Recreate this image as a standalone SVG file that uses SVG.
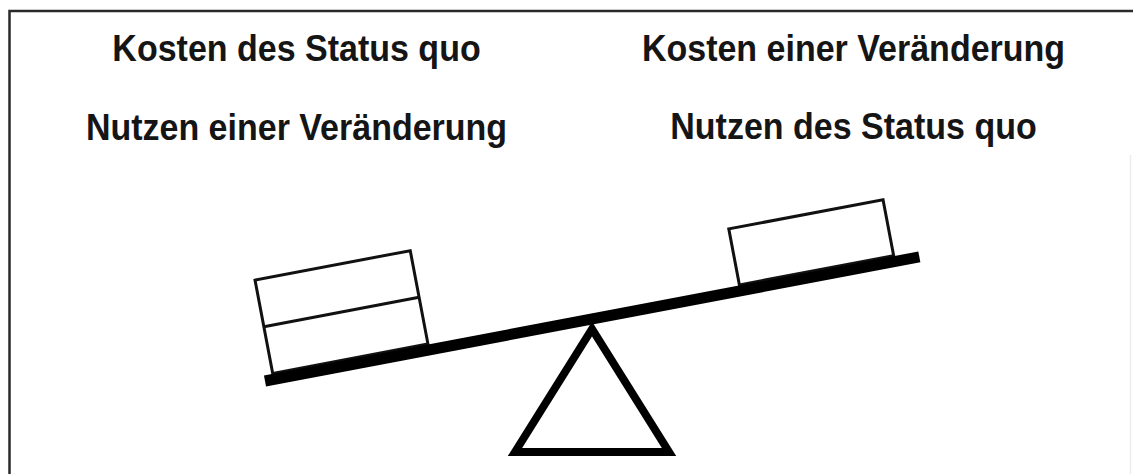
<svg xmlns="http://www.w3.org/2000/svg" width="1133" height="474" viewBox="0 0 1133 474">
<style>
  .lbl { font-family: "Liberation Sans", Arial, sans-serif; font-weight: bold; font-size: 34px; fill: #151515; text-anchor: middle; }
  .box { fill: #ffffff; stroke: #111111; stroke-width: 3; }
</style>
<rect width="1133" height="474" fill="#ffffff"/>
<path d="M9.5,474 V11 H1133" fill="none" stroke="#2a2a2a" stroke-width="2.5"/>
<line x1="1130.5" y1="155" x2="1130.5" y2="474" stroke="#ececec" stroke-width="1.5"/>
<g id="labels-left">
  <text class="lbl" transform="translate(296.5,61) scale(1,1.1)">Kosten des Status quo</text>
  <text class="lbl" transform="translate(296.5,140) scale(1,1.1)">Nutzen einer Veränderung</text>
</g>
<g id="labels-right">
  <text class="lbl" transform="translate(853.5,61) scale(1,1.1)">Kosten einer Veränderung</text>
  <text class="lbl" transform="translate(853.5,139) scale(1,1.1)">Nutzen des Status quo</text>
</g>
<g id="seesaw" transform="translate(265,381) rotate(-10.74)">
  <g id="box-left">
    <rect class="box" x="9" y="-101" width="158" height="95"/>
    <line x1="9" y1="-53.5" x2="167" y2="-53.5" stroke="#111111" stroke-width="3"/>
  </g>
  <g id="box-right">
    <rect class="box" x="484" y="-63" width="157" height="57"/>
  </g>
  <g id="beam">
    <rect x="0" y="-5.5" width="666" height="11" fill="#000000"/>
  </g>
</g>
<g id="fulcrum">
  <polygon points="592,329 515,452 669,452" fill="#ffffff" stroke="#000000" stroke-width="8" stroke-linejoin="miter"/>
</g>
</svg>
